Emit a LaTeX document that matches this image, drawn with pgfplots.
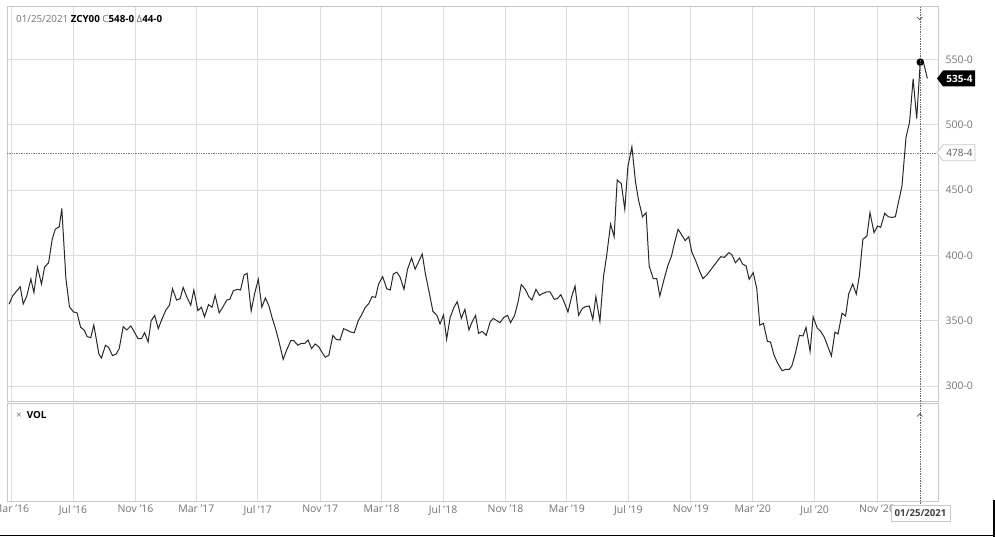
\documentclass[border=0pt]{standalone}
\usepackage{pgfplots}
\pgfplotsset{compat=1.18}
\usepackage{pgfplotstable}
\usepackage{fontspec}
\setmainfont{Open Sans}

\definecolor{gridgray}{RGB}{220,220,220}
\definecolor{framegray}{RGB}{200,200,200}
\definecolor{labgray}{RGB}{115,115,115}
\definecolor{linegray}{RGB}{40,40,40}

% day = days since 1 Jan 2016, v = price (cents/bu)
\pgfplotstableread{
d v
56 362.6
63 368.9
70 372.2
78 376.0
84 362.8
91 368.9
99 382.0
105 371.5
112 390.9
120 378.0
126 391.0
134 394.4
141 412.3
147 420.0
155 422.0
160 436.0
168 382.4
175 360.7
183 356.7
190 356.0
197 345.0
204 342.9
210 337.8
217 337.0
223 346.7
233 324.5
238 321.4
246 331.2
252 329.6
260 323.2
267 324.5
273 328.6
281 345.4
288 342.9
296 346.0
302 341.9
310 336.3
317 336.3
323 340.8
330 333.7
336 350.0
343 354.0
350 343.9
357 351.0
365 358.2
372 361.8
378 374.5
386 365.8
393 366.8
399 375.5
406 368.4
414 361.8
420 373.5
428 357.7
435 360.3
441 353.0
449 362.3
456 360.3
462 369.4
470 356.0
477 360.3
485 365.8
491 366.4
498 373.0
506 374.0
512 373.5
519 385.0
525 386.3
533 357.4
540 371.0
547 381.7
554 360.3
561 367.4
568 361.3
574 352.6
581 343.9
587 335.2
596 320.4
603 327.6
611 334.7
617 334.7
625 331.2
632 332.7
639 332.7
645 335.2
652 328.6
659 332.2
666 330.1
673 325.5
679 322.0
686 323.5
694 338.8
700 335.8
708 335.2
715 343.9
721 342.9
729 341.3
736 340.8
744 350.0
750 354.1
758 360.3
765 363.3
771 368.4
778 367.9
784 378.1
792 383.7
800 374.5
807 373.5
813 385.8
820 387.1
826 383.7
834 374.0
841 389.4
849 398.0
856 389.4
863 395.2
870 401.1
876 386.3
884 371.0
891 357.2
899 354.0
905 347.5
912 354.4
918 335.8
925 352.6
933 360.7
939 364.5
947 351.8
954 358.7
962 342.9
967 348.0
975 354.1
981 340.3
988 341.8
996 338.8
1004 349.2
1010 351.8
1017 350.0
1023 348.5
1031 352.6
1038 354.1
1044 348.5
1052 354.1
1059 364.8
1065 377.6
1073 374.0
1080 368.4
1086 365.8
1094 374.0
1101 369.4
1108 371.0
1115 372.0
1122 372.0
1130 366.4
1136 366.9
1143 369.9
1149 364.8
1157 356.7
1164 367.9
1171 376.6
1178 354.1
1185 359.2
1191 360.7
1199 361.3
1206 351.1
1212 368.4
1220 349.5
1227 383.7
1233 399.0
1241 424.0
1248 414.3
1254 457.7
1262 455.1
1269 435.3
1275 467.9
1283 483.2
1290 456.6
1296 442.4
1304 429.6
1311 432.7
1317 391.9
1325 382.2
1332 382.2
1338 368.9
1346 381.2
1354 392.4
1361 399.5
1367 409.7
1374 420.0
1380 416.4
1388 411.3
1395 414.3
1401 402.6
1409 395.5
1416 388.3
1423 382.2
1430 384.8
1440 389.8
1449 394.4
1458 399.0
1465 398.5
1474 402.1
1480 400.5
1487 394.4
1495 398.0
1501 393.4
1508 391.9
1514 381.7
1522 386.8
1529 374.5
1535 346.5
1542 348.0
1550 334.2
1556 333.7
1563 323.5
1571 316.8
1579 311.7
1587 312.8
1593 312.8
1598 315.3
1605 325.0
1613 338.8
1620 338.3
1626 344.9
1634 326.5
1640 353.0
1648 344.4
1655 341.8
1662 337.3
1668 331.2
1676 323.0
1683 341.3
1689 339.8
1697 355.7
1704 353.6
1710 370.4
1718 378.1
1725 370.4
1731 384.2
1738 412.3
1746 414.9
1752 432.7
1760 417.4
1767 422.5
1773 421.5
1781 432.2
1788 429.6
1795 429.1
1802 429.6
1809 442.4
1815 453.1
1823 490.4
1830 502.1
1837 535.3
1844 504.7
1851 548.0
1857 548.5
1865 535.5
}\pricedata

\begin{document}
\begin{tikzpicture}[x=1pt,y=1pt,font=\fontsize{10.5}{12}\selectfont]
\useasboundingbox (0,0) rectangle (995,537);

% price pane
\begin{axis}[
  at={(7pt,136pt)}, anchor=south west,
  scale only axis, width=931pt, height=395pt,
  xmin=52, xmax=1886, ymin=288.5, ymax=591,
  xtick={60,182,305,425,546,669,790,911,1034,1155,1276,1399,1521,1643,1766},
  xticklabels={},
  ytick={300,350,400,450,500,550},
  yticklabels={300-0,350-0,400-0,450-0,500-0,550-0},
  yticklabel pos=right,
  yticklabel style={text=labgray, anchor=west, xshift=4pt},
  major tick length=0pt,
  grid=major,
  major grid style={gridgray, line width=0.9pt},
  axis line style={framegray, line width=0.9pt},
]
\draw[densely dotted, gray, line width=0.7pt] (52,478.5) -- (1886,478.5);
\addplot[linegray, line width=1pt, mark=none] table[x=d, y=v] {\pricedata};
\addplot[only marks, mark=*, mark size=3.5pt, black] coordinates {(1851,548)};
\end{axis}

% volume pane
\begin{axis}[
  at={(7pt,36pt)}, anchor=south west,
  scale only axis, width=931pt, height=98pt,
  xmin=52, xmax=1886, ymin=0, ymax=1,
  ytick=\empty,
  xtick={60,182,305,425,546,669,790,911,1034,1155,1276,1399,1521,1643,1766},
  xticklabels={Mar '16,Jul '16,Nov '16,Mar '17,Jul '17,Nov '17,Mar '18,Jul '18,Nov '18,Mar '19,Jul '19,Nov '19,Mar '20,Jul '20,Nov '20},
  xticklabel style={text=labgray, yshift=-0.5pt},
  major tick length=0pt,
  xmajorgrids,
  major grid style={gridgray, line width=0.9pt},
  axis line style={framegray, line width=0.9pt},
]
\end{axis}

% header
\node[anchor=west, inner sep=0, font=\fontsize{9.8}{11}\selectfont] at (16,517.5)
  {\textcolor{labgray}{01/25/2021} \textbf{ZCY00} \textcolor{labgray}{C}\textbf{548-0} \textcolor{labgray}{Δ}\textbf{44-0}};
\node[anchor=west, inner sep=0, font=\fontsize{9.8}{11}\selectfont] at (16,122)
  {\textcolor{labgray}{×}\hspace{5pt}\textbf{VOL}};

% cursor line and chevrons
\draw[densely dotted, gray!80!black, line width=0.7pt] (920.2,530) -- (920.2,32);
\draw[gray!60!black, line width=0.7pt] (917,520) -- (919.7,517.3) -- (922.4,520);
\draw[gray!60!black, line width=0.7pt] (917,120.5) -- (919.7,123.2) -- (922.4,120.5);

% last price tag
\fill[black] (937,458.5) -- (943,466.5) -- (975,466.5) -- (975,450.5) -- (943,450.5) -- cycle;
\node[white, inner sep=0, font=\fontsize{10}{11}\selectfont\bfseries] at (959.5,458.5) {535-4};
% dotted level tag
\draw[framegray, fill=white, line width=0.8pt] (937,384.3) -- (943,392.3) -- (975,392.3) -- (975,376.3) -- (943,376.3) -- cycle;
\node[text=labgray!80!black, inner sep=0, font=\fontsize{10}{11}\selectfont] at (959.5,384.3) {478-4};

% date box
\draw[framegray, fill=white, line width=0.8pt] (891,32) rectangle (950,16);
\node[text=black!75, inner sep=0, font=\fontsize{9.6}{11}\selectfont\bfseries] at (920.5,24) {01/25/2021};

% screenshot edge
\draw[black, line width=1.5pt] (0,1.3) -- (995,1.3);
\draw[black, line width=1.5pt] (994.2,37) -- (994.2,0);
\end{tikzpicture}
\end{document}
